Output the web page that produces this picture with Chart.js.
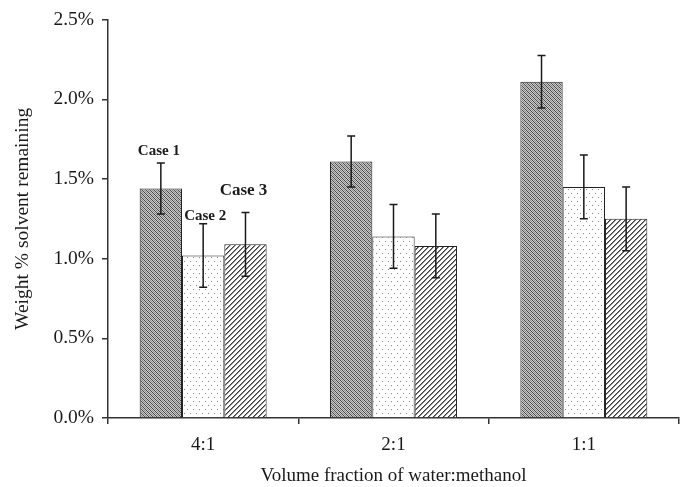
<!DOCTYPE html>
<html>
<head>
<meta charset="utf-8">
<script src="https://cdn.jsdelivr.net/npm/chart.js@4/dist/chart.umd.min.js"></script>
<style>
  html, body { margin: 0; padding: 0; background: #fff; }
  #wrap { width: 685px; height: 487px; }
</style>
</head>
<body>
<div id="wrap"><canvas id="c" width="685" height="487"></canvas></div>
<script>
// Solvent ratios (water:methanol) and the three drying cases
const categories = ['4:1', '2:1', '1:1'];
const caseNames = ['Case 1', 'Case 2', 'Case 3'];

// Mean weight % of solvent remaining
const case1 = [1.44, 1.61, 2.11];
const case2 = [1.02, 1.14, 1.45];
const case3 = [1.09, 1.08, 1.25];

// Half-widths of the error bars
const case1Err = [0.16, 0.16, 0.165];
const case2Err = [0.20, 0.20, 0.20];
const case3Err = [0.20, 0.20, 0.20];

// Y axis tick values
const yTicks = [0, 0.5, 1.0, 1.5, 2.0, 2.5];

const SERIF = '"Liberation Serif", "Times New Roman", serif';
const INK = '#1a1a1a';

// Small tiles used as bar fills
function makeTile(w, h, draw) {
  const t = document.createElement('canvas');
  t.width = w; t.height = h;
  const g = t.getContext('2d');
  draw(g, w, h);
  return document.getElementById('c').getContext('2d').createPattern(t, 'repeat');
}

// dense gray diagonal weave
const fillCase1 = makeTile(4, 4, (g) => {
  const D = '#4a4a4a', L = '#c8c8c8', M = '#8a8a8a';
  const rows = [
    [D, L, M, L],
    [L, D, L, M],
    [M, L, D, L],
    [L, M, L, D]
  ];
  rows.forEach((row, r) => row.forEach((c, k) => { g.fillStyle = c; g.fillRect(k, r, 1, 1); }));
});

// sparse dots on white
const fillCase2 = makeTile(6, 8, (g, w, h) => {
  g.fillStyle = '#ffffff'; g.fillRect(0, 0, w, h);
  g.fillStyle = '#8c8c8c';
  g.fillRect(1, 1, 1, 1);
  g.fillRect(4, 5, 1, 1);
});

// forward-slash hatching
const fillCase3 = makeTile(5, 5, (g, w, h) => {
  g.fillStyle = '#ffffff'; g.fillRect(0, 0, w, h);
  for (let i = 0; i < 5; i++) {
    g.fillStyle = '#3c3c3c'; g.fillRect(i, 4 - i, 1, 1);
    g.fillStyle = '#8a8a8a'; g.fillRect(i, (5 - i) % 5, 1, 1);
  }
});

// Error bars drawn over the bars from each dataset's `errors` array
const errorBars = {
  id: 'errorBars',
  afterDatasetsDraw(chart) {
    const { ctx } = chart;
    const y = chart.scales.y;
    ctx.save();
    ctx.strokeStyle = INK;
    ctx.lineWidth = 1.5;
    chart.data.datasets.forEach((ds, i) => {
      chart.getDatasetMeta(i).data.forEach((bar, j) => {
        const v = ds.data[j], e = ds.errors[j];
        const top = y.getPixelForValue(v + e);
        const bot = y.getPixelForValue(v - e);
        const x = bar.x;
        ctx.beginPath();
        ctx.moveTo(x, top); ctx.lineTo(x, bot);
        ctx.moveTo(x - 4, top); ctx.lineTo(x + 4, top);
        ctx.moveTo(x - 4, bot); ctx.lineTo(x + 4, bot);
        ctx.stroke();
      });
    });
    ctx.restore();
  }
};

// Case names written above the first group of bars
const caseLabels = {
  id: 'caseLabels',
  afterDraw(chart, args, opts) {
    const { ctx } = chart;
    const y = chart.scales.y;
    ctx.save();
    ctx.fillStyle = INK;
    ctx.textAlign = 'center';
    ctx.textBaseline = 'middle';
    chart.data.datasets.forEach((ds, i) => {
      const bar = chart.getDatasetMeta(i).data[0];
      const s = opts.styles[i];
      const top = y.getPixelForValue(ds.data[0] + ds.errors[0]);
      ctx.font = 'bold ' + s.size + 'px ' + SERIF;
      ctx.fillText(ds.label, bar.x + s.dx, top - s.rise);
    });
    ctx.restore();
  }
};

new Chart(document.getElementById('c'), {
  type: 'bar',
  data: {
    labels: categories,
    datasets: [
      { label: caseNames[0], data: case1, errors: case1Err, backgroundColor: fillCase1 },
      { label: caseNames[1], data: case2, errors: case2Err, backgroundColor: fillCase2 },
      { label: caseNames[2], data: case3, errors: case3Err, backgroundColor: fillCase3 }
    ].map(d => Object.assign(d, {
      borderColor: '#222',
      borderWidth: 1,
      categoryPercentage: 0.667,
      barPercentage: 1.0
    }))
  },
  options: {
    responsive: false,
    animation: false,
    devicePixelRatio: 1,
    layout: { padding: { left: 0, right: 6, top: 15, bottom: 0 } },
    plugins: {
      legend: { display: false },
      tooltip: { enabled: false },
      caseLabels: {
        styles: [
          { size: 15, dx: -2, rise: 12 },
          { size: 15, dx: 2, rise: 8 },
          { size: 17, dx: -2, rise: 22 }
        ]
      }
    },
    scales: {
      x: {
        offset: true,
        grid: {
          display: true, drawOnChartArea: false, drawTicks: true,
          tickLength: 6, color: '#333', lineWidth: 1.5, offset: true
        },
        border: { display: true, color: '#333', width: 1.5 },
        ticks: { color: INK, font: { family: SERIF, size: 19 }, padding: 10 },
        title: {
          display: true, text: 'Volume fraction of water:methanol', color: INK,
          font: { family: SERIF, size: 19 }, padding: { top: 0, bottom: 0 }
        },
        afterFit(s) { s.height = 69; }
      },
      y: {
        min: 0, max: 2.5,
        afterBuildTicks(s) { s.ticks = yTicks.map(v => ({ value: v })); },
        grid: {
          display: true, drawOnChartArea: false, drawTicks: true,
          tickLength: 6, color: '#333', lineWidth: 1.5
        },
        border: { display: true, color: '#333', width: 1.5 },
        ticks: {
          color: INK, font: { family: SERIF, size: 19.5 }, padding: 8,
          callback: v => v.toFixed(1) + '%'
        },
        title: {
          display: true, text: 'Weight % solvent remaining', color: INK,
          font: { family: SERIF, size: 19.5 }, padding: { top: 11, bottom: 0 }
        },
        afterFit(s) { s.width = 108; }
      }
    }
  },
  plugins: [errorBars, caseLabels]
});
</script>
</body>
</html>
